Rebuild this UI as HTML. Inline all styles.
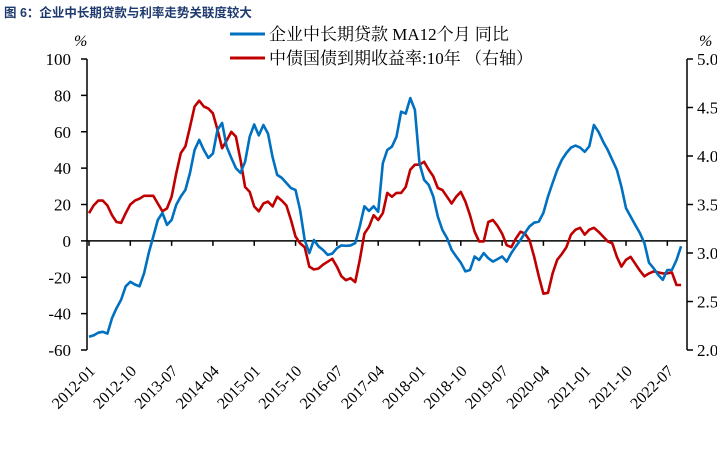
<!DOCTYPE html>
<html><head><meta charset="utf-8"><style>
body{margin:0;background:#fff;width:717px;height:450px;overflow:hidden}
svg{display:block}
svg text{font-family:"Liberation Serif","Noto Serif CJK SC",serif}
</style></head><body>
<svg id="chart" width="717" height="450">
<text x="4" y="17" font-size="12.5" font-weight="bold" fill="#1f3a6e" style="font-family:'Liberation Sans','Noto Sans CJK SC',sans-serif">图 6：企业中长期贷款与利率走势关联度较大</text>
<g>
<line x1="230" y1="34" x2="265" y2="34" stroke="#0070c0" stroke-width="3"/>
<text x="269" y="40" font-size="17" font-family="Liberation Serif, Noto Serif CJK SC, serif" style="font-family:'Liberation Serif','Noto Serif CJK SC',serif">企业中长期贷款 MA12个月 同比</text>
<line x1="230" y1="58" x2="265" y2="58" stroke="#c00000" stroke-width="3"/>
<text x="269" y="64" font-size="17" style="font-family:'Liberation Serif','Noto Serif CJK SC',serif">中债国债到期收益率:10年 （右轴）</text>
</g>
<text x="74" y="46" font-size="16" font-style="italic" style="font-family:'Liberation Serif',serif">%</text>
<text x="699" y="46" font-size="16" font-style="italic" style="font-family:'Liberation Serif',serif">%</text>
<g id="axes" style="font-family:'Liberation Serif',serif"></g>
<g id="series"></g>
</svg>
<script>
const xLabels=["2012-01","2012-10","2013-07","2014-04","2015-01","2015-10","2016-07","2017-04","2018-01","2018-10","2019-07","2020-04","2021-01","2021-10","2022-07"];
const leftTicks=[100,80,60,40,20,0,-20,-40,-60];
const rightTicks=["5.0","4.5","4.0","3.5","3.0","2.5","2.0"];
const loans=[-52.7,-52,-50.5,-50,-51,-42.5,-37,-32.4,-25,-22.5,-24,-25,-17.8,-6.7,2.4,11.5,15.4,8.8,11.5,19.8,24.4,28,37.4,50,55.5,50,45.6,48,61,64.8,51.8,45.6,40,37.4,43.6,57.3,64,58,63.7,59,46,36.3,34.6,31.8,29,28,17,0.5,-6.7,0.5,-3,-5,-7.7,-7,-4,-2.5,-2.7,-2.5,-1.2,8,19,16.5,19,16,42.6,50,51.8,57.3,71,70,78.5,72,42.6,33.5,30.8,24.4,13.4,6,1.6,-4.9,-8.6,-12,-16.8,-16,-8.6,-10.5,-6.7,-9.5,-11.4,-10,-8.6,-11.4,-6.7,-3,0.5,4.4,8,10,10.6,15.4,24.4,31.8,39,44.5,48.3,51.3,52.4,51.3,49,52,63.7,60,54.6,50,44.5,39,29.8,18,13.4,8.8,4.4,-1.2,-12,-15,-18.7,-21.4,-16,-16,-10.5,-3];
const yields=[3.41,3.49,3.54,3.54,3.49,3.39,3.32,3.31,3.41,3.5,3.54,3.56,3.59,3.59,3.59,3.51,3.43,3.46,3.58,3.82,4.03,4.1,4.3,4.51,4.57,4.51,4.49,4.44,4.27,4.08,4.16,4.25,4.2,3.96,3.68,3.63,3.48,3.43,3.51,3.53,3.48,3.58,3.54,3.49,3.34,3.17,3.1,3.06,2.86,2.83,2.84,2.88,2.91,2.94,2.86,2.76,2.72,2.74,2.7,2.93,3.2,3.27,3.39,3.34,3.41,3.62,3.58,3.62,3.62,3.68,3.86,3.91,3.91,3.94,3.86,3.79,3.67,3.65,3.58,3.51,3.58,3.63,3.53,3.39,3.22,3.12,3.12,3.32,3.34,3.28,3.2,3.08,3.06,3.15,3.22,3.2,3.13,2.96,2.76,2.58,2.59,2.79,2.93,2.99,3.06,3.19,3.24,3.26,3.19,3.24,3.26,3.22,3.17,3.12,3.1,2.96,2.86,2.93,2.96,2.89,2.82,2.76,2.79,2.81,2.8,2.79,2.79,2.8,2.67,2.67];

const NS="http://www.w3.org/2000/svg";
const X0=89,PXM=4.59,LX=87,RX=687,TOP=59,BOT=350;
const x=i=>X0+i*PXM;
const yL=v=>TOP+(100-v)*(BOT-TOP)/160;
const yR=v=>TOP+(5-v)*(BOT-TOP)/3;
function mk(tag,attrs,parent){const e=document.createElementNS(NS,tag);for(const k in attrs)e.setAttribute(k,attrs[k]);parent.appendChild(e);return e;}
const axes=document.getElementById('axes'),series=document.getElementById('series');
const SERIF="font-family:'Liberation Serif',serif";

let e=mk('line',{x1:LX,y1:TOP,x2:LX,y2:BOT,stroke:'#000','stroke-width':1.5},axes);


e=mk('line',{x1:RX,y1:TOP,x2:RX,y2:BOT,stroke:'#000','stroke-width':1.5},axes);


e=mk('line',{x1:LX,y1:yL(0),x2:RX,y2:yL(0),stroke:'#000','stroke-width':1.5},axes);


leftTicks.forEach(v=>{
  const t=mk('line',{x1:LX-6,y1:yL(v),x2:LX,y2:yL(v),stroke:'#000','stroke-width':1.5},axes);
  
  
  const l=mk('text',{x:71,y:yL(v)+6,'font-size':17,'text-anchor':'end',style:SERIF},axes);
  l.textContent=v;
  
  
});
rightTicks.forEach(s=>{
  const v=parseFloat(s);
  const t=mk('line',{x1:RX,y1:yR(v),x2:RX+6,y2:yR(v),stroke:'#000','stroke-width':1.5},axes);
  
  
  const l=mk('text',{x:697,y:yR(v)+6,'font-size':17,style:SERIF},axes);
  l.textContent=s;
  
  
});
xLabels.forEach((s,k)=>{
  const xx=x(k*9);
  const t=mk('line',{x1:xx,y1:yL(0),x2:xx,y2:yL(0)+5,stroke:'#000','stroke-width':1.5},axes);
  
  
  const l=mk('text',{x:xx+7,y:372,'font-size':16,'text-anchor':'end',style:SERIF,transform:`rotate(-45 ${xx+7} 372)`},axes);
  l.textContent=s;
  
  
});
let p=mk('polyline',{points:yields.map((v,i)=>x(i).toFixed(1)+','+yR(v).toFixed(1)).join(' '),fill:'none',stroke:'#c00000','stroke-width':2.6,'stroke-linejoin':'round'},series);


p=mk('polyline',{points:loans.map((v,i)=>x(i).toFixed(1)+','+yL(v).toFixed(1)).join(' '),fill:'none',stroke:'#0070c0','stroke-width':2.6,'stroke-linejoin':'round'},series);


</script>
</body></html>
